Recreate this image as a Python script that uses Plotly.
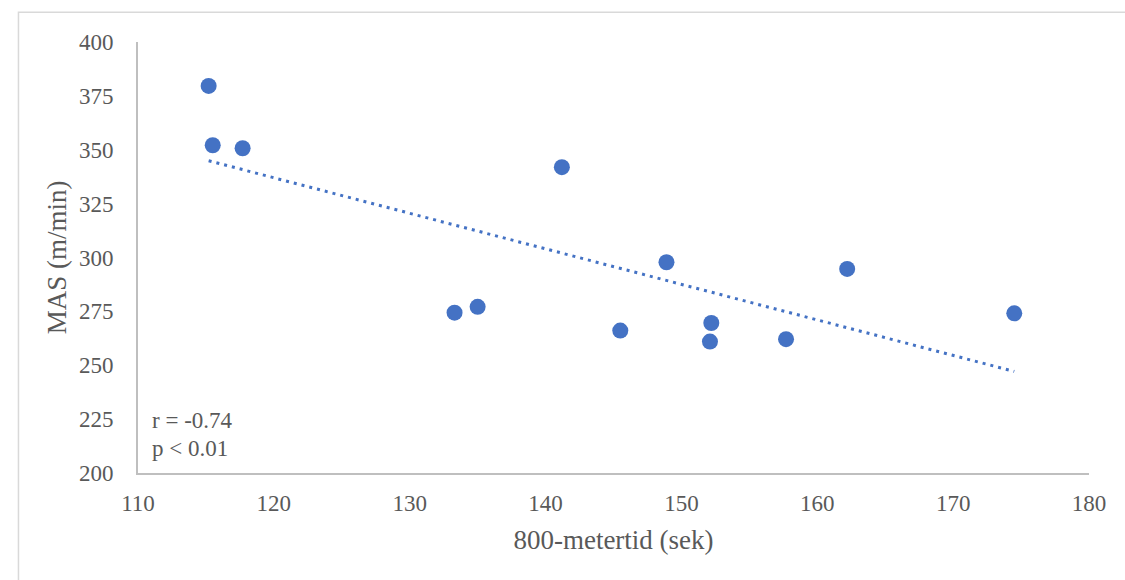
import numpy as np
import plotly.graph_objects as go

# Data
tid_800m = [115.2, 115.5, 117.7, 141.2, 133.3, 135.0, 145.5, 148.9, 152.2, 152.1, 157.7, 162.2, 174.5]
mas = [379.6, 352.1, 350.7, 341.9, 274.4, 277.1, 266.1, 297.8, 269.6, 261.0, 262.1, 294.7, 274.1]
x_ticks = [110, 120, 130, 140, 150, 160, 170, 180]
y_ticks = [200, 225, 250, 275, 300, 325, 350, 375, 400]
stats_lines = ["r = -0.74", "p < 0.01"]

BLUE = "#4472C4"
GRAY_TXT = "#595959"
AXIS = "#BFBFBF"
FONT = "Liberation Serif"

# Linear trendline (least squares) over the data range
slope, intercept = np.polyfit(tid_800m, mas, 1)
tx = [min(tid_800m), max(tid_800m)]
ty = [slope * v + intercept for v in tx]

fig = go.Figure()
fig.add_trace(go.Scatter(
    x=tx, y=ty, mode="lines",
    line=dict(color=BLUE, width=3, dash="3px,5px"),
    hoverinfo="skip", showlegend=False,
))
fig.add_trace(go.Scatter(
    x=tid_800m, y=mas, mode="markers",
    marker=dict(color=BLUE, size=16, line=dict(width=0)),
    showlegend=False,
))

fig.add_annotation(x=110.9, y=224.2, xref="x", yref="y", text=stats_lines[0],
                   showarrow=False, xanchor="left", yanchor="middle",
                   font=dict(family=FONT, size=23, color=GRAY_TXT))
fig.add_annotation(x=110.9, y=211.3, xref="x", yref="y", text=stats_lines[1],
                   showarrow=False, xanchor="left", yanchor="middle",
                   font=dict(family=FONT, size=23, color=GRAY_TXT))

# Chart-area border (top and left visible)
fig.add_shape(type="rect", xref="paper", yref="paper",
              x0=-0.1257, x1=1.2, y0=-0.5, y1=1.0693,
              line=dict(color="#D9D9D9", width=1.5), layer="below")

fig.update_layout(
    width=1125, height=580,
    margin=dict(l=138, r=36, t=42, b=107),
    paper_bgcolor="white", plot_bgcolor="white",
    font=dict(family=FONT, color=GRAY_TXT),
    xaxis=dict(
        range=[110, 180], tickvals=x_ticks, ticktext=[str(v) for v in x_ticks],
        showgrid=False, zeroline=False, showline=True, linecolor=AXIS, linewidth=2,
        ticks="outside", ticklen=8, tickcolor="rgba(0,0,0,0)",
        tickfont=dict(family=FONT, size=23, color=GRAY_TXT),
        title=dict(text="800-metertid (sek)", font=dict(family=FONT, size=27, color=GRAY_TXT), standoff=16),
    ),
    yaxis=dict(
        range=[200, 400], tickvals=y_ticks, ticktext=[str(v) for v in y_ticks],
        showgrid=False, zeroline=False, showline=True, linecolor=AXIS, linewidth=2,
        ticks="outside", ticklen=18, tickcolor="rgba(0,0,0,0)",
        tickfont=dict(family=FONT, size=23, color=GRAY_TXT),
        title=dict(text="MAS (m/min)", font=dict(family=FONT, size=27, color=GRAY_TXT), standoff=4),
    ),
)

fig.write_html("out.html")
